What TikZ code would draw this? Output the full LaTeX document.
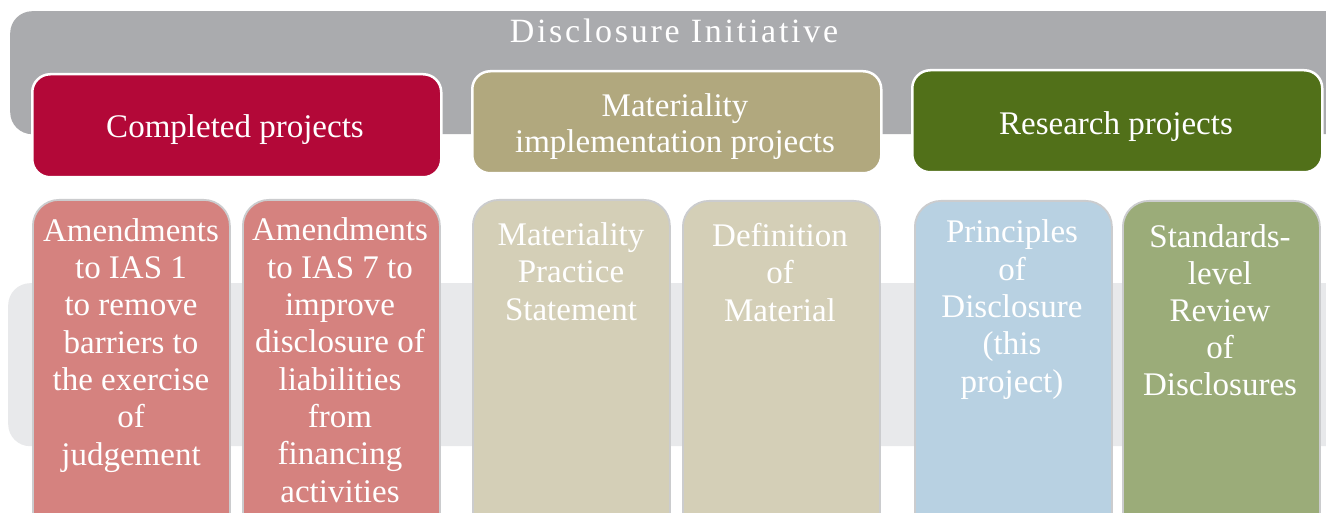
\documentclass[tikz,border=0pt]{standalone}
\usepackage{fontspec}
\setmainfont{Liberation Serif}
\newfontfamily\titlefont[LetterSpace=8]{Liberation Serif}
\definecolor{bannergray}{HTML}{AAABAE}
\definecolor{bandgray}{HTML}{E8E9EB}
\definecolor{hdred}{HTML}{B30838}
\definecolor{hdtan}{HTML}{B1A87E}
\definecolor{hdgreen}{HTML}{517019}
\definecolor{bxred}{HTML}{D5827F}
\definecolor{bxtan}{HTML}{D4CFB7}
\definecolor{bxblue}{HTML}{B8D1E2}
\definecolor{bxgreen}{HTML}{9BAC79}
\definecolor{bxline}{HTML}{CBCCCE}
\tikzset{
  header/.style={draw=white, line width=2.5pt, rounded corners=18pt, anchor=north west, inner sep=0pt},
  itembox/.style={draw=bxline, line width=1.8pt, rounded corners=26pt, anchor=north west, inner sep=0pt, minimum width=197pt, minimum height=340pt},
  txt/.style={text=white, align=center, inner sep=0pt, anchor=base, font={\fontsize{33}{37.3}\selectfont}},
}
\begin{document}
\begin{tikzpicture}[x=1pt,y=-1pt]
\clip (0,0) rectangle (1326,513);
\fill[white] (0,0) rectangle (1326,513);
% banner and band
\node[fill=bannergray, rounded corners=22pt, anchor=north west, inner sep=0pt, minimum width=1380pt, minimum height=123pt] (banner) at (10,11) {};
\node[fill=bandgray, rounded corners=22pt, anchor=north west, inner sep=0pt, minimum width=1380pt, minimum height=163pt] (band) at (8,283) {};
\node[txt, font={\titlefont\fontsize{34}{38}\selectfont}] (title) at (674,43) {Disclosure Initiative};
% headers
\node[header, fill=hdred, minimum width=409pt, minimum height=103pt] (h1) at (31,73) {};
\node[header, fill=hdtan, minimum width=409pt, minimum height=102pt] (h2) at (471,70) {};
\node[header, fill=hdgreen, minimum width=410pt, minimum height=102pt] (h3) at (911,69) {};
\node[txt] (h1t) at (235,138) {Completed projects};
\node[txt, font={\fontsize{33}{36}\selectfont}] (h2t) at (675,153) {Materiality\\implementation projects};
\node[txt] (h3t) at (1116,135) {Research projects};
% item boxes
\node[itembox, fill=bxred] (b1) at (32,199) {};
\node[itembox, fill=bxred] (b2) at (242,199) {};
\node[itembox, fill=bxtan] (b3) at (472,199) {};
\node[itembox, fill=bxtan] (b4) at (682,200) {};
\node[itembox, fill=bxblue] (b5) at (914,200) {};
\node[itembox, fill=bxgreen] (b6) at (1122,200) {};
% text nodes: anchor=base is the baseline of the last line
\node[txt] (b1t) at (131,465) {Amendments\\to IAS 1\\to remove\\barriers to\\the exercise\\of\\judgement};
\node[txt] (b2t) at (340,502) {Amendments\\to IAS 7 to\\improve\\disclosure of\\liabilities\\from\\financing\\activities};
\node[txt] (b3t) at (571,320) {Materiality\\Practice\\Statement};
\node[txt] (b4t) at (780,321) {Definition\\of\\Material};
\node[txt] (b5t) at (1012,392) {Principles\\of\\Disclosure\\(this\\project)};
\node[txt, font={\fontsize{33}{37}\selectfont}] (b6t) at (1220,395) {Standards-\\level\\Review\\of\\Disclosures};
\end{tikzpicture}
\end{document}
